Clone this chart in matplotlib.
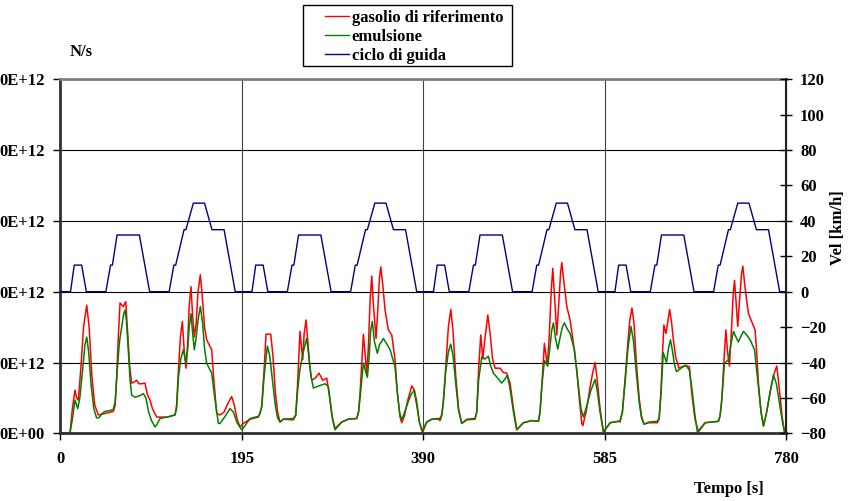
import numpy as np
import matplotlib.pyplot as plt
from matplotlib.lines import Line2D
from matplotlib.patches import Rectangle

plt.rcParams['font.family'] = ['Liberation Serif', 'DejaVu Serif']
plt.rcParams['font.weight'] = 'bold'

# ciclo di guida ECE-15 (una ripetizione da 195 s), ripetuto 4 volte
t_ciclo = [0, 11, 15, 23, 28, 49, 54, 56, 61, 85, 96, 117, 122, 124, 133, 135,
           143, 155, 163, 176, 188, 195]
v_ciclo = [0, 0, 15, 15, 0, 0, 15, 15, 32, 32, 0, 0, 15, 15, 35, 35,
           50, 50, 35, 35, 0, 0]
n_cicli = 4

# gasolio di riferimento: (tempo [s], valore [E+12 N/s])
gasolio_rif = [
    (0, 0), (10.4, 0), (13, 0.35), (15.8, 0.61), (17.5, 0.5), (19.4, 0.47), (22, 0.9),
    (25, 1.5), (28.4, 1.81), (31, 1.5), (34, 0.8), (37, 0.4), (40.9, 0.26), (48, 0.28),
    (57, 0.31), (59, 0.4), (60.6, 0.8), (62.5, 1.4), (64.2, 1.84), (67.7, 1.79),
    (70.3, 1.86), (72.5, 1.4), (74.5, 0.95), (76.7, 0.71), (79, 0.72), (82.1, 0.75),
    (84.5, 0.7), (87.5, 0.70), (91, 0.71), (93.5, 0.55), (96.4, 0.47), (99, 0.35),
    (103.6, 0.23), (115, 0.23), (123.3, 0.26), (125, 0.4), (127, 0.9), (129, 1.35),
    (131.2, 1.58), (133, 1.2), (135.1, 0.92), (137, 1.3), (138.5, 1.8), (140.5, 2.07),
    (142, 1.7), (144, 1.36), (146, 1.55), (148, 2.0), (150.5, 2.24), (152.5, 1.95),
    (155, 1.5), (157.3, 1.32), (162.7, 1.18), (165, 0.75), (168.1, 0.28), (171.6, 0.26),
    (176, 0.3), (180, 0.42), (184.2, 0.52), (187, 0.4), (190, 0.2), (193.1, 0.09),
    (196.7, 0.14), (203.9, 0.20), (212.8, 0.23), (214.5, 0.28), (216.5, 0.38),
    (219, 0.9), (221.1, 1.40), (226.1, 1.40), (228.5, 1.1), (231, 0.6), (233.5, 0.3),
    (236.1, 0.16), (239.7, 0.20), (250.4, 0.19), (253, 0.25), (255, 0.7), (257.6, 1.44),
    (260.5, 1.04), (262, 1.4), (264.1, 1.60), (266, 1.3), (268, 0.95), (270.2, 0.75),
    (274, 0.78), (278, 0.85), (282, 0.75), (286.3, 0.78), (289, 0.55), (292, 0.25),
    (295.2, 0.07), (302.4, 0.16), (309.5, 0.20), (318.6, 0.21), (320.5, 0.3),
    (322.1, 0.56), (325.7, 1.40), (329.3, 0.85), (331, 1.2), (333, 1.9), (334.7, 2.22),
    (336.5, 1.8), (339.3, 1.34), (341, 1.7), (343, 2.2), (344.4, 2.35), (346.5, 2.1),
    (349, 1.74), (352.5, 1.46), (356.2, 1.39), (359.7, 1.04), (362, 0.6), (365.1, 0.23),
    (366.9, 0.15), (370, 0.25), (373, 0.45), (377.7, 0.67), (380, 0.62), (383, 0.4),
    (386, 0.15), (388.4, 0.04), (389.5, 0.02), (393.8, 0.16), (399.2, 0.20),
    (406.3, 0.20), (408.1, 0.18), (410, 0.25), (411.7, 0.47), (414, 0.9), (417, 1.5),
    (419.6, 1.75), (422, 1.45), (425, 0.8), (428, 0.35), (431.4, 0.14), (436.8, 0.19),
    (445.7, 0.20), (447.5, 0.3), (449.5, 0.9), (451.8, 1.39), (454, 1.05), (456, 1.3),
    (459.4, 1.67), (462, 1.4), (464.5, 1.05), (467.2, 0.92), (472.6, 0.92), (476, 0.86),
    (479.8, 0.85), (483.3, 0.71), (487, 0.35), (490.5, 0.05), (497.6, 0.15),
    (506.6, 0.18), (513.8, 0.17), (515.5, 0.3), (517.4, 0.66), (520.2, 1.27),
    (523.4, 0.96), (525.5, 1.4), (527.5, 2.0), (529.2, 2.33), (531.5, 1.85),
    (533.5, 1.39), (535.5, 1.8), (537.5, 2.25), (538.9, 2.41), (541.5, 2.1),
    (544.3, 1.79), (547.8, 1.60), (551.4, 1.27), (555, 0.89), (558, 0.45), (560.4, 0.14),
    (561.5, 0.11), (565, 0.3), (569.4, 0.66), (572, 0.85), (574.7, 1.0), (577, 0.75),
    (580, 0.35), (583.6, 0.02), (587, 0.08), (590.8, 0.15), (599.7, 0.17),
    (601.5, 0.16), (604, 0.3), (607.1, 0.8), (610, 1.3), (612, 1.6), (614.3, 1.77),
    (616.5, 1.55), (619, 1.0), (622, 0.5), (624.5, 0.25), (627.2, 0.13), (632.5, 0.15),
    (641.5, 0.15), (643.5, 0.2), (645.5, 0.6), (647, 1.1), (648.6, 1.53), (650.8, 1.41),
    (652.5, 1.55), (654.8, 1.75), (657, 1.55), (659, 1.3), (661.2, 1.08), (664.8, 0.92),
    (668, 0.94), (671.4, 0.96), (676, 0.94), (678.6, 0.56), (682, 0.2), (685.7, 0.02),
    (692.9, 0.15), (707.2, 0.17), (709, 0.25), (710.9, 0.47), (713, 1.0), (715.2, 1.46),
    (717, 1.15), (719, 0.95), (721, 1.4), (723, 1.95), (724.5, 2.16), (726.5, 1.8),
    (728, 1.51), (730, 1.9), (732, 2.25), (733.4, 2.36), (735.5, 2.1), (737.7, 1.86),
    (739.5, 1.69), (743.8, 1.55), (746.6, 1.46), (748.5, 1.1), (750.2, 0.71), (753, 0.3),
    (755.6, 0.11), (759, 0.3), (763, 0.6), (766.4, 0.82), (769.9, 0.95), (772.5, 0.65),
    (775.5, 0.25), (778.2, 0.02), (780, 0.02),
]

# emulsione: (tempo [s], valore [E+12 N/s])
emulsione = [
    (0, 0), (10.4, 0), (13, 0.2), (15.8, 0.47), (18.7, 0.35), (21, 0.5), (24, 0.9),
    (26.5, 1.25), (28.4, 1.36), (30.5, 1.15), (33, 0.7), (36, 0.35), (39, 0.22),
    (41.5, 0.22), (45, 0.28), (48, 0.31), (53, 0.32), (57, 0.34), (59, 0.45), (61, 0.85),
    (63, 1.2), (64.2, 1.35), (66, 1.5), (68, 1.68), (69.5, 1.74), (71, 1.6), (73, 1.2),
    (75, 0.75), (76.7, 0.54), (80.3, 0.51), (85, 0.53), (89.3, 0.56), (92, 0.5),
    (95, 0.3), (98, 0.18), (101.8, 0.09), (104, 0.13), (107.2, 0.21), (115, 0.23),
    (123.3, 0.26), (125, 0.35), (127, 0.8), (129.5, 1.05), (132.2, 1.18), (135.1, 0.99),
    (137, 1.2), (138.5, 1.5), (140.5, 1.69), (142, 1.45), (144, 1.18), (146, 1.35),
    (148, 1.6), (150.5, 1.79), (153, 1.55), (155, 1.2), (157.3, 0.99), (162.7, 0.85),
    (166, 0.5), (169.9, 0.14), (171.6, 0.14), (176, 0.22), (182.4, 0.35), (186, 0.3),
    (190, 0.15), (195, 0.05), (198, 0.1), (203.9, 0.21), (212.8, 0.24), (214.5, 0.28),
    (216.5, 0.38), (219, 0.8), (222.5, 1.23), (225, 1.1), (228, 0.75), (231, 0.4),
    (233.5, 0.22), (236.1, 0.16), (239.7, 0.20), (250.4, 0.21), (253, 0.26), (255, 0.6),
    (257.5, 0.9), (259.5, 1.04), (262, 1.2), (264.8, 1.34), (267, 1.1), (269.5, 0.8),
    (272, 0.64), (278, 0.67), (284.5, 0.70), (288, 0.66), (290, 0.45), (292.5, 0.2),
    (295.2, 0.05), (302.4, 0.16), (309.5, 0.20), (318.6, 0.21), (320.5, 0.3),
    (322.1, 0.5), (325.7, 0.99), (330, 0.79), (332, 1.1), (333.5, 1.45), (335.3, 1.58),
    (337.5, 1.3), (340.7, 1.13), (343, 1.25), (347.2, 1.34), (350.5, 1.27),
    (354.4, 1.18), (359.7, 0.94), (362, 0.6), (364.5, 0.3), (366.9, 0.19), (370, 0.3),
    (374, 0.45), (377, 0.55), (380.5, 0.61), (383, 0.45), (386, 0.15), (389.1, 0.04),
    (393.8, 0.16), (399.2, 0.20), (406.3, 0.21), (408.1, 0.21), (410, 0.27),
    (411.7, 0.45), (414, 0.85), (417, 1.15), (419.6, 1.26), (422, 1.1), (425, 0.7),
    (428, 0.32), (431.4, 0.14), (436.8, 0.20), (445.7, 0.21), (447.5, 0.3),
    (449.5, 0.75), (452.9, 1.08), (456.4, 1.05), (460, 1.09), (462.5, 0.95),
    (465.4, 0.85), (470, 0.78), (474.4, 0.71), (477.5, 0.76), (480.4, 0.82), (483, 0.65),
    (487, 0.3), (490.5, 0.05), (497.6, 0.15), (506.6, 0.18), (513.8, 0.17), (515.5, 0.3),
    (517.4, 0.66), (520.2, 1.03), (523.8, 0.95), (526, 1.2), (528, 1.45), (529.9, 1.56),
    (532, 1.35), (534.6, 1.19), (537, 1.35), (539.5, 1.5), (541.7, 1.56), (544.5, 1.48),
    (547.8, 1.41), (552.5, 1.18), (556.8, 0.66), (559.5, 0.35), (562.1, 0.23), (566, 0.4),
    (570, 0.6), (574.7, 0.76), (577, 0.6), (580, 0.3), (583.6, 0.02), (587, 0.08),
    (590.8, 0.15), (599.7, 0.17), (601.5, 0.18), (604, 0.3), (607.1, 0.75), (610, 1.2),
    (613.2, 1.51), (616, 1.3), (619, 0.85), (622, 0.45), (624.5, 0.22), (627.2, 0.13),
    (632.5, 0.16), (641.5, 0.17), (643.5, 0.22), (645.5, 0.55), (647.9, 1.14),
    (651.4, 1.0), (653.5, 1.2), (655.7, 1.32), (658, 1.15), (660, 0.97), (662.2, 0.87),
    (668, 0.93), (672.5, 0.96), (676, 0.89), (679, 0.6), (682, 0.25), (684.6, 0.02),
    (692.9, 0.15), (707.2, 0.17), (709, 0.25), (710.9, 0.5), (713.7, 0.99), (718, 1.04),
    (720.5, 1.25), (723.4, 1.44), (726, 1.36), (728.7, 1.29), (731, 1.36), (734.1, 1.44),
    (737.5, 1.39), (741.3, 1.32), (746, 1.18), (750.2, 0.66), (753, 0.3), (755.6, 0.10),
    (759, 0.3), (763, 0.6), (766.4, 0.82), (769.5, 0.7), (772.5, 0.45), (775.5, 0.2),
    (778.2, 0.02), (780, 0.02),
]

x_ticks = [0, 195, 390, 585, 780]
y_ticks_sx = [0, 1, 2, 3, 4, 5]
y_labels_sx = ["0E+00", "0E+12", "0E+12", "0E+12", "0E+12", "0E+12"]
y_ticks_dx = [-80, -60, -40, -20, 0, 20, 40, 60, 80, 100, 120]

t_guida = np.concatenate([np.array(t_ciclo) + 195 * k for k in range(n_cicli)])
v_guida = np.tile(v_ciclo, n_cicli)
t_rif, y_rif = np.array(gasolio_rif).T
t_emu, y_emu = np.array(emulsione).T

fig = plt.figure(figsize=(8.49, 5.01), dpi=100)
ax = fig.add_axes([0.071, 0.135, 0.855, 0.707])
ax2 = ax.twinx()

ax.plot(t_rif, y_rif, color='#ff0000', lw=1.1)
ax.plot(t_emu, y_emu, color='#008000', lw=1.1)
ax2.plot(t_guida, v_guida, color='#000080', lw=1.0)

ax.set_xlim(0, 780)
ax.set_ylim(0, 5)
ax2.set_ylim(-80, 120)

ax.set_xticks(x_ticks)
ax.set_yticks(y_ticks_sx)
ax.set_yticklabels(y_labels_sx)
ax2.set_yticks(y_ticks_dx)

# griglia
for v in y_ticks_sx[1:]:
    ax.axhline(v, color='black', lw=0.8, zorder=0)
for t in x_ticks[1:-1]:
    ax.axvline(t, color='#404040', lw=0.8, zorder=0)

ax.tick_params(axis='both', labelsize=12, direction='out', length=5, width=1)
ax.tick_params(axis='x', pad=8)
ax.tick_params(axis='y', pad=6)
ax2.tick_params(axis='y', labelsize=12, direction='inout', length=8, width=1, pad=6)
for lab in ax.get_xticklabels() + ax.get_yticklabels() + ax2.get_yticklabels():
    lab.set_fontweight('bold')

ax.spines['top'].set_color('#808080')
ax.spines['top'].set_linewidth(2)
ax.spines['left'].set_color('#303030')
ax.spines['left'].set_linewidth(2)
ax.spines['bottom'].set_color('#303030')
ax.spines['bottom'].set_linewidth(2)
ax2.spines['right'].set_color('#202020')
ax2.spines['right'].set_linewidth(1.5)
for s in ['top', 'left', 'bottom']:
    ax2.spines[s].set_visible(False)

fig.text(0.0825, 0.896, "N/s", fontsize=12, fontweight='bold', ha='left', va='center')
fig.text(0.859, 0.024, "Tempo [s]", fontsize=12, fontweight='bold', ha='center', va='center')
fig.text(0.987, 0.545, "Vel [km/h]", fontsize=12, fontweight='bold', ha='center',
         va='center', rotation=90)

# legenda: cornice disegnata a parte per avere il margine sinistro largo
fig.patches.append(Rectangle((0.357, 0.868), 0.246, 0.122, transform=fig.transFigure,
                             facecolor='white', edgecolor='black', lw=1.0))
handles = [Line2D([], [], color='#ff0000', lw=1),
           Line2D([], [], color='#008000', lw=1),
           Line2D([], [], color='#000080', lw=1)]
fig.legend(handles, ["gasolio di riferimento", "emulsione", "ciclo di guida"],
           loc='upper left', bbox_to_anchor=(0.383, 0.981), frameon=False,
           handlelength=1.4, handletextpad=0.2, borderpad=0, borderaxespad=0,
           labelspacing=0.2, prop={'weight': 'bold', 'size': 12})

fig.savefig('out.png', dpi=100)
